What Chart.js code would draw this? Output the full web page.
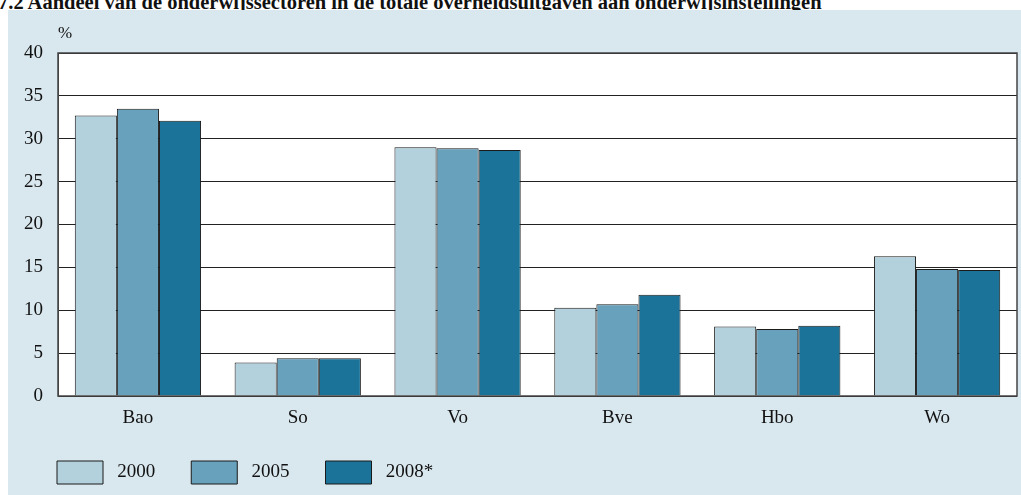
<!DOCTYPE html>
<html>
<head>
<meta charset="utf-8">
<script src="https://cdn.jsdelivr.net/npm/chart.js@4.4.0/dist/chart.umd.min.js"></script>
<style>
  body { margin: 0; background: #fff; width: 1021px; height: 495px; overflow: hidden; position: relative; font-family: 'Liberation Serif', serif; }
  #title { position: absolute; left: -2px; top: -9px; font-size: 20.5px; line-height: 23px; font-weight: bold; white-space: nowrap; color: #111; }
  #panel { position: absolute; left: 8px; top: 10px; width: 1013px; height: 485px; background: #d9e7ee; }
  #unit { position: absolute; left: 50px; top: 13px; font-size: 17px; line-height: 19px; color: #111; }
</style>
</head>
<body>
<div id="title">7.2 Aandeel van de onderwijssectoren in de totale overheidsuitgaven aan onderwijsinstellingen</div>
<div id="panel">
  <canvas id="barChart"></canvas>
  <span id="unit">%</span>
</div>
<script>
const categories = ['Bao', 'So', 'Vo', 'Bve', 'Hbo', 'Wo'];
const years = ['2000', '2005', '2008*'];
const values2000 = [32.7, 3.9, 29.0, 10.3, 8.1, 16.3];
const values2005 = [33.5, 4.4, 28.9, 10.7, 7.8, 14.8];
const values2008 = [32.1, 4.4, 28.7, 11.8, 8.2, 14.7];
const yTicks = [0, 5, 10, 15, 20, 25, 30, 35, 40];

const colors = ['#b3d1dd', '#67a1bc', '#1b7399'];
const serif = 'Liberation Serif';

// witte plotachtergrond + rand om het plotgebied
const plotArea = {
  id: 'plotArea',
  beforeDraw(chart) {
    const { ctx, chartArea: a } = chart;
    ctx.save();
    ctx.fillStyle = '#fff';
    ctx.fillRect(a.left, a.top, a.right - a.left, a.bottom - a.top);
    ctx.restore();
  },
  afterDraw(chart) {
    const { ctx, chartArea: a } = chart;
    ctx.save();
    ctx.strokeStyle = '#444';
    ctx.lineWidth = 1.5;
    ctx.strokeRect(a.left, a.top, a.right - a.left, a.bottom - a.top);
    ctx.restore();
  }
};

const ctx = document.getElementById('barChart');

const barChart = new Chart(ctx, {
  type: 'bar',
  data: {
    labels: categories,
    datasets: [values2000, values2005, values2008].map((vals, i) => ({
      label: years[i],
      data: vals,
      backgroundColor: colors[i],
      borderColor: '#1a1a1a',
      borderWidth: 1,
      barPercentage: 1,
      categoryPercentage: 0.79
    }))
  },
  options: {
    responsive: true,
    maintainAspectRatio: false,
    animation: false,
    layout: { padding: { top: 43, right: 4, left: 13, bottom: 1 } },
    plugins: {
      tooltip: { enabled: false },
      legend: {
        position: 'bottom',
        align: 'start',
        labels: {
          boxWidth: 46,
          boxHeight: 23,
          padding: 36,
          color: '#111',
          font: { family: serif, size: 19 },
          // iets meer ruimte tussen vakje en tekst
          generateLabels: (chart) => Chart.defaults.plugins.legend.labels.generateLabels(chart)
            .map(l => ({ ...l, text: ' ' + l.text }))
        }
      }
    },
    scales: {
      x: {
        grid: { display: false },
        border: { display: false },
        ticks: { color: '#111', padding: 3, font: { family: serif, size: 19 } },
        afterFit: (scale) => { scale.height = 29; }
      },
      y: {
        min: 0,
        max: 40,
        afterBuildTicks: (scale) => { scale.ticks = yTicks.map(v => ({ value: v })); },
        grid: { color: '#222', drawTicks: false },
        border: { display: true, color: '#444' },
        ticks: { color: '#111', padding: 15, font: { family: serif, size: 19 } },
        afterFit: (scale) => { scale.width = 37; }
      }
    }
  },
  plugins: [plotArea]
});
</script>
</body>
</html>
